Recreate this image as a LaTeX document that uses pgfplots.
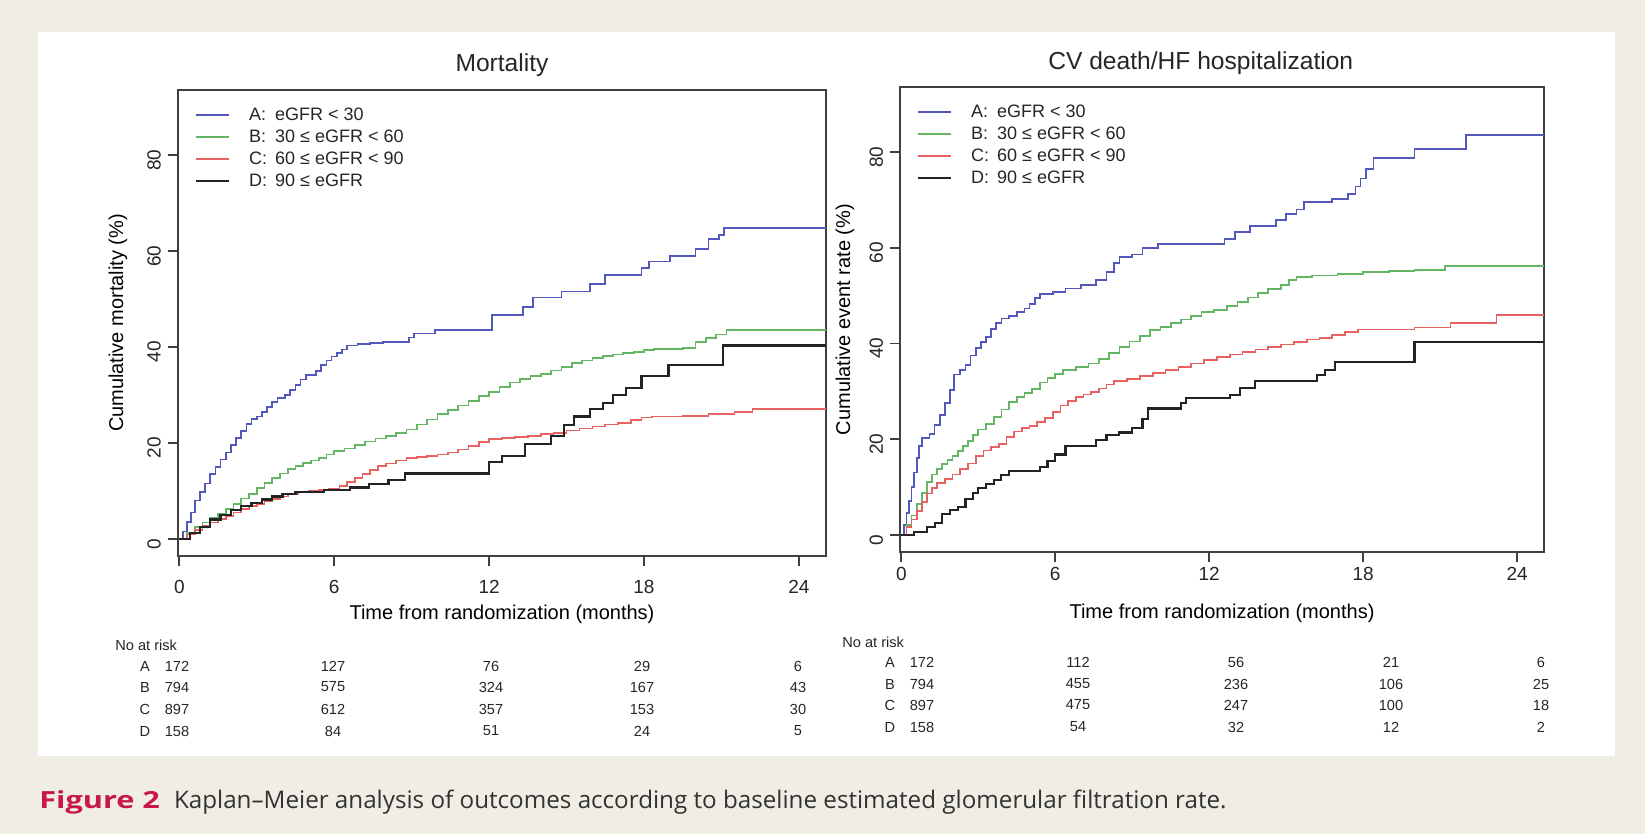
\documentclass[border=0pt]{standalone}
\usepackage{pgfplots}
\pgfplotsset{compat=1.18}
\usepackage{fontspec}
\setmainfont{Liberation Sans}
\newfontfamily\capfont{Open Sans}

\definecolor{kmA}{RGB}{82,88,190}
\definecolor{kmB}{RGB}{100,182,100}
\definecolor{kmC}{RGB}{232,98,98}
\definecolor{kmD}{RGB}{35,35,35}
\definecolor{pagebg}{RGB}{239,237,228}
\definecolor{figred}{RGB}{200,25,70}
\definecolor{captext}{RGB}{50,50,50}

\pgfplotsset{
  kmaxis/.style={
    scale only axis,
    xmin=-0.05, xmax=25.05, ymin=-3.6, ymax=93.6,
    xtick={0,6,12,18,24}, ytick={0,20,40,60,80},
    tick align=outside, tick pos=left, major tick length=5pt,
    axis line style={black!75, line width=0.9pt},
    every tick/.style={black!75, line width=0.8pt},
    tick label style={font=\fontsize{9.5}{10}\selectfont, text=black!85},
    /pgf/number format/assume math mode=true,
    yticklabel style={rotate=90, anchor=south, xshift=-2.5pt},
    label style={font=\fontsize{9.8}{11}\selectfont, text=black!85},
    % the default title shift (6pt) is cancelled and the title lowered a little
    title style={font=\fontsize{12.3}{14}\selectfont, text=black!85, anchor=center, yshift=-7.5pt},
    legend style={draw=none, fill=none, at={(0,1)}, anchor=north west,
      xshift=8.5pt, yshift=-7pt, inner sep=0pt, outer sep=0pt,
      row sep=0pt, column sep=9.5pt, font=\fontsize{9}{11}\selectfont,
      text=black!85,
      nodes={inner sep=0pt, text height=8.2pt, text depth=2.8pt}},
    legend cell align=left,
    legend image code/.code={\draw[##1] (0pt,0pt) -- (16.5pt,0pt);},
  },
  grpA/.style={kmA, line width=0.85pt, const plot},
  grpB/.style={kmB, line width=0.85pt, const plot},
  grpC/.style={kmC, line width=0.85pt, const plot},
  grpD/.style={kmD, line width=1.1pt, const plot},
}

\newcommand{\lgA}{\makebox[13pt][l]{A:}eGFR < 30}
\newcommand{\lgB}{\makebox[13pt][l]{B:}30 ≤ eGFR < 60}
\newcommand{\lgC}{\makebox[13pt][l]{C:}60 ≤ eGFR < 90}
\newcommand{\lgD}{\makebox[13pt][l]{D:}90 ≤ eGFR}

\begin{document}
\begin{tikzpicture}
% page and figure panel
\fill[pagebg] (0,0) rectangle (822.5pt,-417pt);
\fill[white] (19pt,-16pt) rectangle (807.5pt,-378pt);

% ---------------- Mortality ----------------
\begin{axis}[kmaxis,
  at={(89pt,-278pt)}, anchor=south west,
  width=324pt, height=233pt,
  title={Mortality},
  title style={at={(axis description cs:0.5,1.060)}},
  xticklabel style={yshift=-3.5pt},
  xlabel={Time from randomization (months)},
  ylabel={Cumulative mortality (\%)},
  every axis x label/.style={at={(axis description cs:0.5,-0.125)}, anchor=center},
  every axis y label/.style={at={(axis description cs:-0.0926,0.5)}, rotate=90, anchor=center},
]
\addplot[grpA] table {
t p
0 0
0.15 1.5
0.3 3.5
0.45 5.5
0.6 8.0
0.8 9.8
1.0 11.5
1.2 13.5
1.4 15.0
1.6 16.5
1.8 18.0
2.0 19.5
2.2 21.0
2.4 22.5
2.6 24.0
2.8 25.0
3.0 25.5
3.2 26.5
3.4 27.5
3.6 28.5
3.8 29.3
4.1 30.0
4.3 31.0
4.5 32.0
4.7 33.2
4.9 34.2
5.3 35.0
5.5 36.2
5.7 37.2
5.9 38.0
6.1 38.8
6.3 39.5
6.5 40.3
6.9 40.6
7.4 40.8
7.9 41.0
8.9 42.0
9.1 42.8
9.9 43.6
12.1 46.6
13.3 48.3
13.7 50.3
14.8 51.6
15.9 53.2
16.5 55.0
17.9 56.5
18.2 57.8
19.0 59.0
20.0 60.5
20.5 62.5
20.9 63.3
21.1 64.8
25.05 64.8
};
\addlegendentry{\lgA}
\addplot[grpB] table {
t p
0 0
0.3 1.2
0.6 2.4
0.9 3.4
1.2 4.3
1.5 5.2
1.8 6.2
2.1 7.3
2.4 8.4
2.7 9.4
3.0 10.6
3.3 11.6
3.6 12.6
3.9 13.6
4.2 14.6
4.5 15.2
4.8 15.8
5.1 16.3
5.4 16.9
5.7 17.6
6.0 18.3
6.4 18.8
6.8 19.6
7.2 20.3
7.6 20.9
8.0 21.4
8.4 22.0
8.8 22.8
9.2 23.8
9.6 24.9
10.0 26.0
10.4 26.9
10.8 27.8
11.2 28.8
11.6 29.7
12.0 30.6
12.4 31.6
12.8 32.6
13.2 33.3
13.6 33.9
14.0 34.4
14.4 35.1
14.8 35.8
15.2 36.6
15.6 37.2
16.0 37.7
16.4 38.1
16.8 38.4
17.2 38.7
17.6 39.0
18.0 39.4
18.4 39.6
19.5 39.8
20.0 41.0
20.4 41.8
20.8 42.6
21.2 43.6
25.05 43.6
};
\addlegendentry{\lgB}
\addplot[grpC] table {
t p
0 0
0.3 0.9
0.6 1.8
0.9 2.7
1.2 3.4
1.5 4.1
1.8 4.8
2.1 5.5
2.4 6.2
2.7 6.8
3.0 7.3
3.3 7.8
3.6 8.3
3.9 8.8
4.2 9.3
4.6 9.7
5.0 9.9
5.4 10.1
5.8 10.4
6.2 11.0
6.5 11.8
6.8 12.7
7.1 13.5
7.4 14.4
7.7 15.1
8.0 15.7
8.4 16.3
8.8 16.8
9.2 17.0
9.6 17.3
10.0 17.6
10.4 18.0
10.8 18.6
11.2 19.3
11.6 20.2
12.0 20.8
12.5 21.0
13.0 21.2
13.5 21.5
14.0 21.8
14.5 22.1
15.0 22.6
15.5 23.0
16.0 23.4
16.5 23.8
17.0 24.2
17.5 24.7
17.9 25.3
18.3 25.5
19.5 25.6
20.5 26.0
21.5 26.4
22.2 27.0
25.05 27.0
};
\addlegendentry{\lgC}
\addplot[grpD] table {
t p
0 0
0.4 1.2
0.8 2.5
1.2 4.0
1.6 5.0
2.0 6.0
2.4 6.8
2.8 7.5
3.2 8.2
3.6 8.8
4.0 9.4
4.5 9.8
5.6 10.2
6.6 10.7
7.35 11.5
8.1 12.3
8.75 13.6
12.0 16.0
12.5 17.3
13.4 19.8
14.4 21.5
14.9 23.8
15.3 25.5
15.9 27.0
16.4 28.3
16.8 30.0
17.3 31.5
17.9 34.0
18.95 36.3
21.05 40.3
25.05 40.3
};
\addlegendentry{\lgD}
\end{axis}

% ---------------- CV death / HF hospitalization ----------------
\begin{axis}[kmaxis,
  at={(450pt,-276pt)}, anchor=south west,
  width=322pt, height=232.5pt,
  title={CV death/HF hospitalization},
  title style={at={(axis description cs:0.467,1.058)}},
  xticklabel style={yshift=1pt},
  xlabel={Time from randomization (months)},
  ylabel={Cumulative event rate (\%)},
  every axis x label/.style={at={(axis description cs:0.5,-0.132)}, anchor=center},
  every axis y label/.style={at={(axis description cs:-0.0854,0.5)}, rotate=90, anchor=center},
]
\addplot[grpA] table {
t p
0 0
0.1 2
0.2 4.5
0.3 7
0.4 10
0.5 13
0.6 16
0.7 18.5
0.8 20.3
1.1 21.0
1.3 23.0
1.5 25.0
1.7 27.5
1.9 30.3
2.05 33.5
2.3 34.5
2.5 35.5
2.7 37.5
2.9 39.0
3.1 40.3
3.3 41.3
3.5 43.0
3.7 44.2
3.9 45.2
4.2 45.8
4.5 46.5
4.8 47.3
5.0 48.2
5.2 49.5
5.4 50.4
5.9 50.8
6.4 51.5
7.0 52.2
7.6 53.2
8.0 55.0
8.3 56.8
8.5 58.0
9.0 58.6
9.4 59.9
10.0 60.8
12.6 61.9
13.0 63.3
13.6 64.6
14.6 65.8
15.0 67.0
15.4 68.0
15.7 69.6
16.8 70.2
17.4 71.2
17.7 72.8
17.9 74.5
18.1 76.5
18.4 78.7
20.0 80.7
22.0 83.6
25.05 83.6
};
\addlegendentry{\lgA}
\addplot[grpB] table {
t p
0 0
0.2 2.0
0.4 4.0
0.6 6.5
0.8 8.8
1.0 11.0
1.2 12.6
1.4 13.8
1.6 14.8
1.8 15.6
2.0 16.5
2.2 17.5
2.4 18.5
2.6 19.6
2.8 20.8
3.0 22.0
3.3 23.2
3.6 24.6
3.9 26.2
4.2 27.8
4.5 28.8
4.8 29.6
5.1 30.4
5.4 31.8
5.7 32.8
6.0 33.6
6.3 34.4
6.8 35.0
7.3 35.8
7.7 36.8
8.1 38.0
8.5 39.2
8.9 40.4
9.3 41.6
9.7 42.8
10.1 43.5
10.5 44.2
10.9 45.0
11.3 45.8
11.7 46.6
12.2 47.0
12.7 47.8
13.1 48.7
13.5 49.6
13.9 50.6
14.3 51.4
14.8 52.2
15.1 53.2
15.4 53.9
16.0 54.2
17.0 54.5
18.0 54.9
19.0 55.1
20.0 55.4
21.2 56.2
25.05 56.2
};
\addlegendentry{\lgB}
\addplot[grpC] table {
t p
0 0
0.2 1.6
0.4 3.2
0.6 5.0
0.8 6.8
1.0 8.6
1.2 9.8
1.4 10.8
1.7 11.6
2.0 12.6
2.3 13.8
2.6 14.9
2.9 16.4
3.2 17.6
3.5 18.4
3.8 19.0
4.1 20.4
4.4 21.6
4.7 22.3
5.0 22.8
5.3 23.6
5.6 24.4
5.9 25.6
6.2 27.0
6.5 28.0
6.8 28.8
7.1 29.3
7.4 29.8
7.7 30.6
8.0 31.4
8.3 32.2
8.8 32.6
9.3 33.2
9.8 33.8
10.3 34.4
10.8 35.0
11.3 35.8
11.8 36.6
12.3 37.2
12.8 37.7
13.3 38.2
13.8 38.7
14.3 39.2
14.8 39.8
15.3 40.3
15.8 40.8
16.3 41.2
16.8 41.8
17.3 42.4
17.8 42.9
20.0 43.3
21.4 44.3
23.2 46.0
25.05 46.0
};
\addlegendentry{\lgC}
\addplot[grpD] table {
t p
0 0
0.5 0.6
1.0 1.6
1.3 2.5
1.6 4.3
1.9 5.2
2.2 5.8
2.5 7.5
2.8 8.8
3.0 9.8
3.3 10.6
3.6 11.4
3.9 12.5
4.2 13.3
5.4 14.2
5.7 15.5
6.0 16.8
6.4 18.6
7.6 19.8
8.0 20.8
8.5 21.4
9.0 22.3
9.4 24.2
9.6 26.4
10.9 27.5
11.1 28.6
12.8 29.3
13.2 30.6
13.8 32.1
16.2 33.4
16.5 34.4
16.9 36.1
20.0 40.3
25.05 40.3
};
\addlegendentry{\lgD}
\end{axis}

% numbers at risk and caption
\begin{scope}[x=0.5pt, y=-0.5pt, every node/.style={text=black!85, inner sep=0pt}]
  \begin{scope}[font=\fontsize{7.3}{8}\selectfont]
    % left panel
    \node[anchor=west] at (115,645) {No at risk};
    \foreach \g/\yy/\a/\b/\c/\d/\e in {A/666/172/127/76/29/6, B/687/794/575/324/167/43,
                                      C/709/897/612/357/153/30, D/731/158/84/51/24/5} {
      \node at (145,\yy) {\g};
      \node at (177,\yy) {\a};
      \node at (333,\yy) {\b};
      \node at (491,\yy) {\c};
      \node at (642,\yy) {\d};
      \node at (798,\yy) {\e};
    }
    % right panel
    \node[anchor=west] at (842,642) {No at risk};
    \foreach \g/\yy/\a/\b/\c/\d/\e in {A/662/172/112/56/21/6, B/684/794/455/236/106/25,
                                      C/705/897/475/247/100/18, D/727/158/54/32/12/2} {
      \node at (890,\yy) {\g};
      \node at (922,\yy) {\a};
      \node at (1078,\yy) {\b};
      \node at (1236,\yy) {\c};
      \node at (1391,\yy) {\d};
      \node at (1541,\yy) {\e};
    }
  \end{scope}
  \node[anchor=base west, text=captext] at (39,808)
    {\capfont\fontsize{11.8}{14}\selectfont\textcolor{figred}{\bfseries\scalebox{1.3}[1]{Figure 2}}\hspace{7pt}\fontsize{12.1}{14}\selectfont Kaplan–Meier analysis of outcomes according to baseline estimated glomerular filtration rate.};
\end{scope}
\end{tikzpicture}
\end{document}
